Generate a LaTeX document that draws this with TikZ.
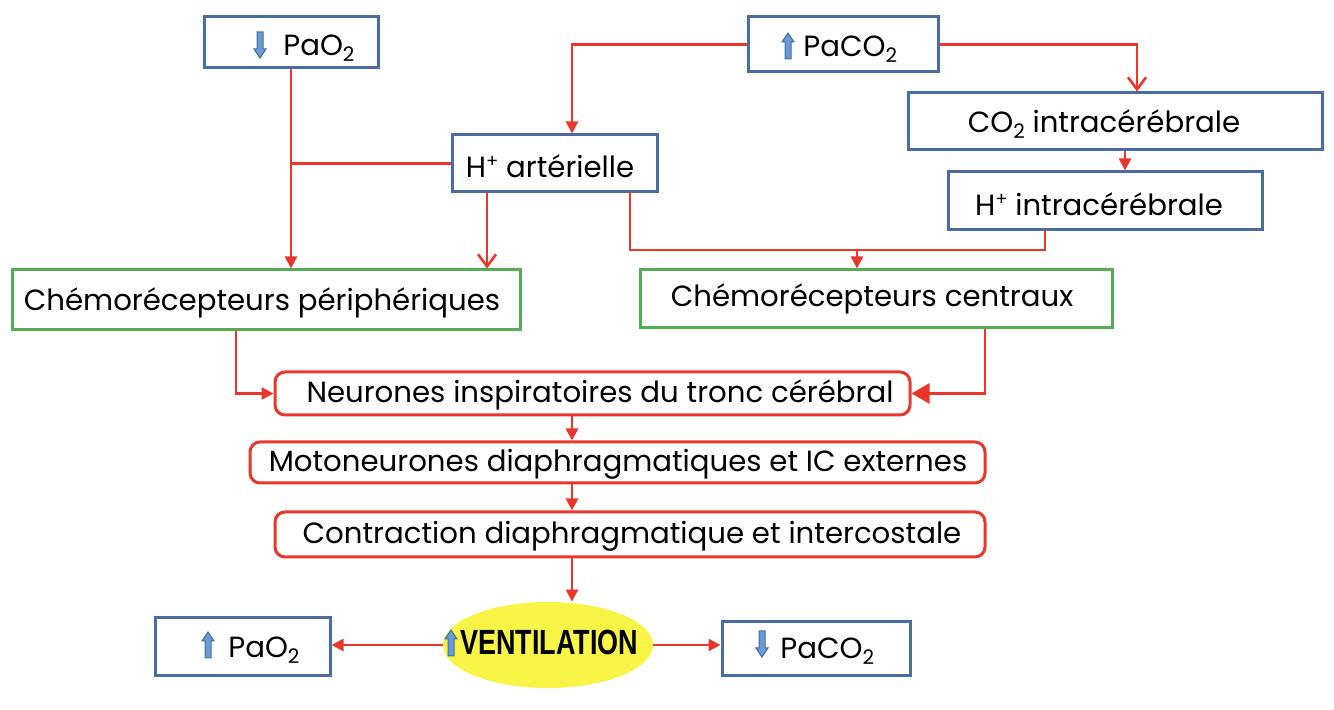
\documentclass[tikz,border=0pt]{standalone}
\usepackage{fontspec}
\setmainfont{Poppins}
\newfontfamily\ventfont{Liberation Sans}
\usetikzlibrary{arrows.meta,shapes.geometric}
\definecolor{bxblue}{RGB}{74,108,160}
\definecolor{bxgreen}{RGB}{84,172,84}
\definecolor{lnred}{RGB}{233,55,43}
\definecolor{ventyellow}{RGB}{248,245,70}
\definecolor{glyphfill}{RGB}{108,155,210}
\definecolor{glyphline}{RGB}{63,111,168}
\newcommand\sbs[1]{\raisebox{-0.35ex}{\fontsize{10}{10}\selectfont #1}}
\newcommand\sps[1]{\raisebox{0.6ex}{\fontsize{9}{9}\selectfont #1}}
\begin{document}
\begin{tikzpicture}[x=0.5pt,y=-0.5pt,
  txt/.style={font=\fontsize{14.6}{16}\selectfont, inner sep=0pt},
  bluebox/.style={draw=bxblue, line width=1.5pt, fill=white, inner sep=0pt},
  greenbox/.style={draw=bxgreen, line width=1.5pt, fill=white, inner sep=0pt},
  redbox/.style={draw=lnred, line width=1.5pt, rounded corners=5pt, fill=white, inner sep=0pt},
  conn/.style={draw=lnred, line width=1.3pt},
  tip/.style={conn, -{Triangle[length=6pt,width=6pt]}},
  bigtip/.style={conn, -{Triangle[length=9pt,width=10pt]}},
  barb/.style={conn, -{Straight Barb[length=6pt,width=9pt,line width=1.3pt]}},
  glyph/.style={draw=glyphline, fill=glyphfill, line width=0.5pt},
  uparr/.pic={\path[glyph] (-3,13) -- (-3,-4) -- (-6,-4) -- (0,-13) -- (6,-4) -- (3,-4) -- (3,13) -- cycle;},
  dnarr/.pic={\path[glyph] (-3,-13) -- (-3,4) -- (-6,4) -- (0,13) -- (6,4) -- (3,4) -- (3,-13) -- cycle;}
]
\useasboundingbox (0,0) rectangle (1334,710);
% boxes
\node[bluebox, minimum width=87pt, minimum height=25.5pt] (pao2t) at (291,42.5) {};
\node[bluebox, minimum width=95pt, minimum height=27.5pt] (paco2t) at (843,44.5) {};
\node[bluebox, minimum width=207pt, minimum height=28.5pt] (co2ic) at (1115,121.5) {};
\node[bluebox, minimum width=157pt, minimum height=29pt] (hic) at (1105,201) {};
\node[bluebox, minimum width=102.5pt, minimum height=28.5pt] (hart) at (554.5,163.5) {};
\node[greenbox, minimum width=254pt, minimum height=30pt] (cper) at (266,300) {};
\node[greenbox, minimum width=236pt, minimum height=29pt] (ccen) at (876,299) {};
\node[redbox, minimum width=317.5pt, minimum height=21.5pt] (neur) at (592.5,393.5) {};
\node[redbox, minimum width=367.5pt, minimum height=20.5pt] (moto) at (617.5,462.5) {};
\node[redbox, minimum width=355pt, minimum height=22.5pt] (contr) at (630,534.5) {};
\node[ellipse, fill=ventyellow, minimum width=105pt, minimum height=43pt, inner sep=0pt] (vent) at (548,645) {};
\node[bluebox, minimum width=87.5pt, minimum height=29pt] (pao2b) at (242.5,647) {};
\node[bluebox, minimum width=94pt, minimum height=27pt] (paco2b) at (816,649) {};
% texts
\node[txt, anchor=base west] (t1) at (283,56) {PaO\sbs{2}};
\pic at (260,45) {dnarr};
\node[txt, anchor=base west] (t2) at (803,57) {PaCO\sbs{2}};
\pic at (788,46) {uparr};
\node[txt] (t3) at (1104,124) {CO\sbs{2} intracérébrale};
\node[txt] (t4) at (1099,204) {H\sps{+} intracérébrale};
\node[txt] (t5) at (550,166) {H\sps{+} artérielle};
\node[txt] (t6) at (262,303) {Chémorécepteurs périphériques};
\node[txt] (t7) at (872,299) {Chémorécepteurs centraux};
\node[txt] (t8) at (600,395) {Neurones inspiratoires du tronc cérébral};
\node[txt] (t9) at (618,464) {Motoneurones diaphragmatiques et IC externes};
\node[txt] (t10) at (632,536) {Contraction diaphragmatique et intercostale};
\node[txt, anchor=base west] (t11) at (228,658) {PaO\sbs{2}};
\pic at (208,645) {uparr};
\node[txt, anchor=base west] (t12) at (780,659) {PaCO\sbs{2}};
\pic at (762,644) {dnarr};
\node[inner sep=0pt, anchor=base west] (t13) at (460,655) {\scalebox{0.77}[1]{\ventfont\bfseries\fontsize{17.5}{18}\selectfont VENTILATION}};
\pic at (451,643) {uparr};
% connectors
\draw[tip] (pao2t.south) -- (pao2t.south |- cper.north);
\draw[conn] (hart.west) -- (hart.west -| pao2t.south);
\coordinate (a1) at (487,192);
\draw[barb] (a1) -- (a1 |- cper.north);
\coordinate (a2) at (630,192);
\coordinate (a3) at (1045,230);
\coordinate (j) at (857,250);
\draw[conn] (a2) |- (j) -| (a3);
\draw[tip] (j) -- (j |- ccen.north);
\coordinate (b1) at (572,42);
\draw[tip] (paco2t.west) -| (b1 |- hart.north);
\coordinate (b2) at (1137,40);
\draw[barb] (paco2t.east) -| (b2 |- co2ic.north);
\coordinate (c1) at (1125,150);
\draw[tip] (c1 |- co2ic.south) -- (c1 |- hic.north);
\coordinate (d1) at (236,330);
\draw[tip] (d1 |- cper.south) |- (neur.west);
\coordinate (d2) at (985,328);
\draw[bigtip] (d2 |- ccen.south) |- (neur.east);
\coordinate (e1) at (572,415);
\draw[tip] (e1 |- neur.south) -- (e1 |- moto.north);
\draw[tip] (e1 |- moto.south) -- (e1 |- contr.north);
\draw[tip] (e1 |- contr.south) -- (e1 |- vent.north);
\draw[tip] (vent.west) -- (vent.west -| pao2b.east);
\draw[tip] (vent.east) -- (vent.east -| paco2b.west);
\end{tikzpicture}
\end{document}
